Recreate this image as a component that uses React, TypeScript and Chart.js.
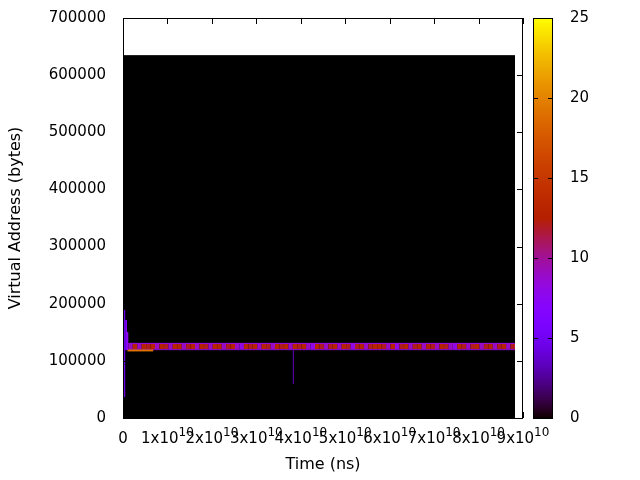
import React, { useEffect, useRef } from 'react';
import { Chart, registerables } from 'chart.js';

Chart.register(...registerables);

// ---- data ----
const xTickValues = [0, 1e10, 2e10, 3e10, 4e10, 5e10, 6e10, 7e10, 8e10, 9e10];
const yTickValues = [0, 100000, 200000, 300000, 400000, 500000, 600000, 700000];
const cbTickValues = [0, 5, 10, 15, 20, 25];

const xMax = 9e10;
const yMax = 700000;
const cbMax = 25;

// heatmap extent (value 0 everywhere it was sampled)
const backgroundCell = { x0: 0, x1: 8.82e10, y0: 0, y1: 635000, v: 0 };

// the horizontal band of access counts (one column per 1e9 ns)
const bandStart = 1.2e9;
const bandStep = 1e9;
const bandMiddleY = [120500, 129500];
const bandMiddleValues = [
  9, 13, 9, 13, 12, 13, 9, 13, 12, 9, 13, 13, 9, 12, 13, 9,
  13, 12, 9, 13, 13, 9, 12, 13, 9, 8, 13, 12, 13, 9, 13, 12, 9, 13,
  12, 13, 9, 13, 12, 13, 9, 8, 13, 12, 9, 12, 13, 9, 13, 12, 8, 12,
  13, 9, 12, 13, 13, 12, 9, 13, 8, 12, 13, 9, 12, 13, 9, 13, 12, 9,
  13, 12, 9, 8, 13, 12, 9, 12, 13, 9, 12, 13, 9, 12, 13, 9, 12,
];
const bandEdgeCells = [
  { x0: 1.2e9, x1: 88.2e9, y0: 129500, y1: 131500, v: 8.5 },
  { x0: 1.2e9, x1: 88.2e9, y0: 119000, y1: 120500, v: 8.5 },
];
const extraCells = [
  { x0: 1.0e9, x1: 6.8e9, y0: 116500, y1: 120000, v: 19 },
  { x0: 0.2e9, x1: 0.5e9, y0: 36750, y1: 189000, v: 4.5 },
  { x0: 0.5e9, x1: 0.9e9, y0: 119000, y1: 171500, v: 6.5 },
  { x0: 0.9e9, x1: 1.2e9, y0: 119000, y1: 150500, v: 8 },
  { x0: 38.2e9, x1: 38.45e9, y0: 59500, y1: 119000, v: 3 },
];

const FONT = 'DejaVu Sans';

function palette(v: number): string {
  const t = Math.min(1, Math.max(0, v / cbMax));
  const r = Math.sqrt(t);
  const g = t * t * t;
  const b = Math.max(0, Math.sin(2 * Math.PI * t));
  return `rgb(${Math.round(r * 255)},${Math.round(g * 255)},${Math.round(b * 255)})`;
}

const heatmapPlugin = {
  id: 'heatmap',
  beforeDatasetsDraw(chart: any) {
    const { ctx, chartArea } = chart;
    const xs = chart.scales.x;
    const ys = chart.scales.y;
    const cells: any[] = [backgroundCell];
    bandMiddleValues.forEach((v, i) => {
      cells.push({ x0: bandStart + i * bandStep, x1: bandStart + (i + 1) * bandStep, y0: bandMiddleY[0], y1: bandMiddleY[1], v });
    });
    cells.push(...bandEdgeCells, ...extraCells);
    ctx.save();
    ctx.beginPath();
    ctx.rect(chartArea.left, chartArea.top, chartArea.right - chartArea.left, chartArea.bottom - chartArea.top);
    ctx.clip();
    for (const c of cells) {
      const px0 = xs.getPixelForValue(c.x0);
      const px1 = xs.getPixelForValue(c.x1);
      const py0 = ys.getPixelForValue(c.y1);
      const py1 = ys.getPixelForValue(c.y0);
      ctx.fillStyle = palette(c.v);
      ctx.fillRect(px0, py0, Math.max(1, px1 - px0), Math.max(1, py1 - py0));
    }
    ctx.restore();
  },
  afterDraw(chart: any) {
    const { ctx, chartArea } = chart;
    const xs = chart.scales.x;
    const ys = chart.scales.y;
    const cb = chart.scales.cb;
    const { left, right, top, bottom } = chartArea;
    const tick = 6;
    ctx.save();
    ctx.strokeStyle = '#000';
    ctx.lineWidth = 1;
    // border
    ctx.strokeRect(left + 0.5, top + 0.5, right - left - 1, bottom - top);
    // ticks
    ctx.beginPath();
    for (const v of xTickValues) {
      const px = Math.round(xs.getPixelForValue(v)) + 0.5;
      ctx.moveTo(px, bottom); ctx.lineTo(px, bottom - tick);
      ctx.moveTo(px, top); ctx.lineTo(px, top + tick);
    }
    for (const v of yTickValues) {
      const py = Math.round(ys.getPixelForValue(v)) + 0.5;
      ctx.moveTo(left, py); ctx.lineTo(left + tick, py);
      ctx.moveTo(right, py); ctx.lineTo(right - tick, py);
    }
    ctx.stroke();

    // x tick labels with superscript exponent
    ctx.fillStyle = '#000';
    ctx.textBaseline = 'alphabetic';
    ctx.textAlign = 'left';
    for (const v of xTickValues) {
      const px = xs.getPixelForValue(v);
      if (v === 0) {
        ctx.font = `15px "${FONT}"`;
        const w = ctx.measureText('0').width;
        ctx.fillText('0', px - w / 2, 443);
        continue;
      }
      const main = `${Math.round(v / 1e10)}x10`;
      ctx.font = `15px "${FONT}"`;
      const w1 = ctx.measureText(main).width;
      ctx.font = `12px "${FONT}"`;
      const w2 = ctx.measureText('10').width;
      const start = px - (w1 + w2) / 2;
      ctx.font = `15px "${FONT}"`;
      ctx.fillText(main, start, 443);
      ctx.font = `12px "${FONT}"`;
      ctx.fillText('10', start + w1, 436);
    }

    // colour box
    const cbL = 533;
    const cbR = 553;
    const cbTop = cb.getPixelForValue(cbMax);
    const cbBot = cb.getPixelForValue(0);
    for (let y = Math.floor(cbTop); y < Math.ceil(cbBot); y++) {
      const v = cb.getValueForPixel(y + 0.5);
      ctx.fillStyle = palette(v);
      ctx.fillRect(cbL, y, cbR - cbL, 1);
    }
    ctx.strokeRect(cbL + 0.5, cbTop + 0.5, cbR - cbL - 1, cbBot - cbTop);
    ctx.beginPath();
    for (const v of cbTickValues) {
      if (v === 0 || v === cbMax) continue;
      const py = Math.round(cb.getPixelForValue(v)) + 0.5;
      ctx.moveTo(cbL, py); ctx.lineTo(cbL + 5, py);
      ctx.moveTo(cbR, py); ctx.lineTo(cbR - 5, py);
    }
    ctx.stroke();
    ctx.restore();
  },
};

export default function App() {
  const ref = useRef<HTMLCanvasElement | null>(null);
  useEffect(() => {
    document.body.style.margin = '0';
    const canvas = ref.current;
    if (!canvas) return;
    const chart = new Chart(canvas, {
      type: 'scatter',
      data: { datasets: [{ data: [] }] },
      options: {
        animation: false,
        responsive: false,
        devicePixelRatio: 1,
        layout: { padding: { top: 18, left: 0, right: 0, bottom: 0 } },
        plugins: { legend: { display: false }, tooltip: { enabled: false } },
        scales: {
          x: {
            type: 'linear',
            min: 0,
            max: xMax,
            afterBuildTicks: (s: any) => { s.ticks = xTickValues.map((value) => ({ value })); },
            afterFit: (s: any) => { s.height = 62; s.paddingLeft = 0; s.paddingRight = 0; },
            grid: { display: false, drawTicks: false },
            border: { display: false },
            ticks: { display: false },
            title: { display: true, text: 'Time (ns)', color: '#000', font: { family: FONT, size: 16 }, padding: { top: 0, bottom: 6 } },
          },
          y: {
            type: 'linear',
            position: 'left',
            min: 0,
            max: yMax,
            afterBuildTicks: (s: any) => { s.ticks = yTickValues.map((value) => ({ value })); },
            afterFit: (s: any) => { s.width = 123; s.paddingTop = 0; s.paddingBottom = 0; },
            grid: { display: false, drawTicks: false },
            border: { display: false },
            ticks: { color: '#000', font: { family: FONT, size: 15 }, padding: 17, callback: (v: any) => String(v) },
            title: { display: true, text: 'Virtual Address (bytes)', color: '#000', font: { family: FONT, size: 16 }, padding: { top: 6, bottom: 0 } },
          },
          cb: {
            type: 'linear',
            position: 'right',
            min: 0,
            max: cbMax,
            afterBuildTicks: (s: any) => { s.ticks = cbTickValues.map((value) => ({ value })); },
            afterFit: (s: any) => { s.width = 117; s.paddingTop = 0; s.paddingBottom = 0; },
            grid: { display: false, drawTicks: false },
            border: { display: false },
            ticks: { color: '#000', font: { family: FONT, size: 15 }, padding: 47, callback: (v: any) => String(v) },
          },
        },
      } as any,
      plugins: [heatmapPlugin],
    });
    return () => chart.destroy();
  }, []);
  return <canvas ref={ref} width={640} height={480} style={{ display: 'block' }} />;
}
